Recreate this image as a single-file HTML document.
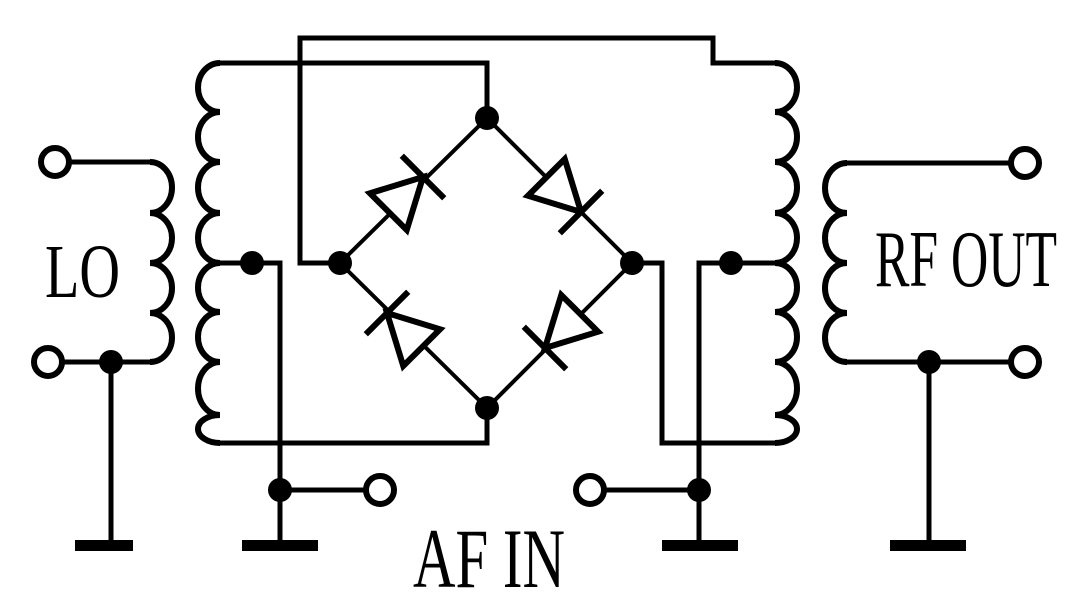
<!DOCTYPE html>
<html><head><style>html,body{margin:0;padding:0;background:#fff;}svg{display:block;}</style></head>
<body>
<svg width="1075" height="612" viewBox="0 0 1075 612" xmlns="http://www.w3.org/2000/svg">
<g fill="none" stroke="#000" stroke-width="5" stroke-linejoin="miter">
<path stroke-width="6" d="M220,63 A22,24.5 0 0 0 220,112 A22,25 0 0 0 220,162 A22,25.5 0 0 0 220,213 A22,25 0 0 0 220,263 A22,24.5 0 0 0 220,312 A22,25 0 0 0 220,362 A22,26.5 0 0 0 220,415 A22,14 0 0 0 220,443"/>
<path stroke-width="6" d="M775,63 A22,24.5 0 0 1 775,112 A22,25 0 0 1 775,162 A22,25.5 0 0 1 775,213 A22,25 0 0 1 775,263 A22,24.5 0 0 1 775,312 A22,25 0 0 1 775,362 A22,26.5 0 0 1 775,415 A22,14 0 0 1 775,443"/>
<path stroke-width="6" d="M150,162 A22,25.5 0 0 1 150,213 A22,25 0 0 1 150,263 A22,25 0 0 1 150,313 A22,24.5 0 0 1 150,362"/>
<path stroke-width="6" d="M847,163 A22,25 0 0 0 847,213 A22,25 0 0 0 847,263 A22,25 0 0 0 847,313 A22,24.5 0 0 0 847,362"/>
<path d="M220,63 H487 V118"/>
<path d="M487,408 V443 H220"/>
<path d="M340,263 H300 V38 H713 V63 H775"/>
<path d="M220,263 H280 V545"/>
<path d="M280,490 H367"/>
<path d="M775,263 H699 V545"/>
<path d="M699,490 H603"/>
<path d="M632,263 H662 V443 H775"/>
<path d="M68,162 H150"/>
<path d="M61,362 H150"/>
<path d="M111,362 V545"/>
<path d="M847,163 H1012"/>
<path d="M847,362 H1012"/>
<path d="M929,362 V545"/>
<path stroke-width="4" d="M487,118 L632,263 L487,408 L340,263 Z"/>
<circle cx="55" cy="162" r="14" stroke-width="6"/>
<circle cx="48" cy="362" r="14" stroke-width="6"/>
<circle cx="1025" cy="163" r="14" stroke-width="6"/>
<circle cx="1025" cy="362" r="14" stroke-width="6"/>
<circle cx="380" cy="490" r="14" stroke-width="6"/>
<circle cx="590" cy="490" r="14" stroke-width="6"/>
<g stroke-width="6">
<g transform="translate(423,177) rotate(-45)"><path fill="#fff" d="M0,0 L-49,-26 L-49,26 Z"/><path d="M0,-30 V30"/></g>
<g transform="translate(581,212) rotate(45)"><path fill="#fff" d="M0,0 L-49,-26 L-49,26 Z"/><path d="M0,-30 V30"/></g>
<g transform="translate(387,313) rotate(-135)"><path fill="#fff" d="M0,0 L-49,-26 L-49,26 Z"/><path d="M0,-30 V30"/></g>
<g transform="translate(545,348) rotate(135)"><path fill="#fff" d="M0,0 L-49,-26 L-49,26 Z"/><path d="M0,-30 V30"/></g>
</g>
</g>
<g fill="#000">
<circle cx="487" cy="118" r="12"/>
<circle cx="340" cy="263" r="12"/>
<circle cx="632" cy="263" r="12"/>
<circle cx="487" cy="408" r="12"/>
<circle cx="252" cy="263" r="12"/>
<circle cx="731" cy="263" r="12"/>
<circle cx="280" cy="490" r="12"/>
<circle cx="699" cy="490" r="12"/>
<circle cx="111" cy="362" r="12"/>
<circle cx="929" cy="362" r="12"/>
<rect x="75" y="540" width="58" height="11"/>
<rect x="242" y="540" width="76" height="11"/>
<rect x="662" y="540" width="76" height="11"/>
<rect x="890" y="540" width="76" height="11"/>
<text x="45" y="297" style="font-family:'Liberation Serif',serif" font-size="76" textLength="75" lengthAdjust="spacingAndGlyphs">LO</text>
<text x="875" y="286" style="font-family:'Liberation Serif',serif" font-size="80" textLength="182" lengthAdjust="spacingAndGlyphs">RF OUT</text>
<text x="413" y="587" style="font-family:'Liberation Serif',serif" font-size="85" textLength="152" lengthAdjust="spacingAndGlyphs">AF IN</text>
</g>
</svg>
</body></html>
